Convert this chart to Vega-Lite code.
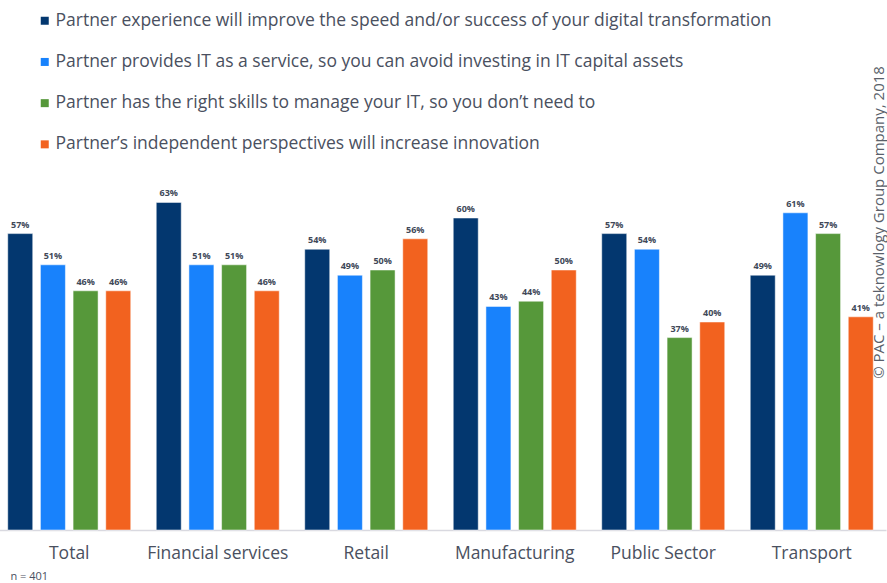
{
  "$schema": "https://vega.github.io/schema/vega-lite/v6.json",
  "width": 887,
  "height": 364,
  "autosize": "none",
  "padding": {"left": 0, "top": 166, "right": 0, "bottom": 53},
  "background": "white",
  "config": {
    "view": {"stroke": null},
    "font": "Open Sans"
  },
  "data": {
    "values": [
      {"sector": "Total", "reason": "Partner experience will improve the speed and/or success of your digital transformation", "value": 0.57},
      {"sector": "Total", "reason": "Partner provides IT as a service, so you can avoid investing in IT capital assets", "value": 0.51},
      {"sector": "Total", "reason": "Partner has the right skills to manage your IT, so you don’t need to", "value": 0.46},
      {"sector": "Total", "reason": "Partner’s independent perspectives will increase innovation", "value": 0.46},
      {"sector": "Financial services", "reason": "Partner experience will improve the speed and/or success of your digital transformation", "value": 0.63},
      {"sector": "Financial services", "reason": "Partner provides IT as a service, so you can avoid investing in IT capital assets", "value": 0.51},
      {"sector": "Financial services", "reason": "Partner has the right skills to manage your IT, so you don’t need to", "value": 0.51},
      {"sector": "Financial services", "reason": "Partner’s independent perspectives will increase innovation", "value": 0.46},
      {"sector": "Retail", "reason": "Partner experience will improve the speed and/or success of your digital transformation", "value": 0.54},
      {"sector": "Retail", "reason": "Partner provides IT as a service, so you can avoid investing in IT capital assets", "value": 0.49},
      {"sector": "Retail", "reason": "Partner has the right skills to manage your IT, so you don’t need to", "value": 0.50},
      {"sector": "Retail", "reason": "Partner’s independent perspectives will increase innovation", "value": 0.56},
      {"sector": "Manufacturing", "reason": "Partner experience will improve the speed and/or success of your digital transformation", "value": 0.60},
      {"sector": "Manufacturing", "reason": "Partner provides IT as a service, so you can avoid investing in IT capital assets", "value": 0.43},
      {"sector": "Manufacturing", "reason": "Partner has the right skills to manage your IT, so you don’t need to", "value": 0.44},
      {"sector": "Manufacturing", "reason": "Partner’s independent perspectives will increase innovation", "value": 0.50},
      {"sector": "Public Sector", "reason": "Partner experience will improve the speed and/or success of your digital transformation", "value": 0.57},
      {"sector": "Public Sector", "reason": "Partner provides IT as a service, so you can avoid investing in IT capital assets", "value": 0.54},
      {"sector": "Public Sector", "reason": "Partner has the right skills to manage your IT, so you don’t need to", "value": 0.37},
      {"sector": "Public Sector", "reason": "Partner’s independent perspectives will increase innovation", "value": 0.40},
      {"sector": "Transport", "reason": "Partner experience will improve the speed and/or success of your digital transformation", "value": 0.49},
      {"sector": "Transport", "reason": "Partner provides IT as a service, so you can avoid investing in IT capital assets", "value": 0.61},
      {"sector": "Transport", "reason": "Partner has the right skills to manage your IT, so you don’t need to", "value": 0.57},
      {"sector": "Transport", "reason": "Partner’s independent perspectives will increase innovation", "value": 0.41}
    ]
  },
  "encoding": {
    "x": {
      "field": "sector",
      "type": "nominal",
      "sort": null,
      "scale": {"range": [-5, 886], "paddingInner": 0, "paddingOuter": 0},
      "axis": {
        "title": "n = 401",
        "titleX": 10,
        "titleY": 46,
        "titleAlign": "left",
        "titleBaseline": "middle",
        "titleFontSize": 11,
        "titleFontWeight": "normal",
        "titleColor": "#4a5060",
        "labelAngle": 0,
        "labelFontSize": 17.5,
        "labelColor": "#4a5060",
        "labelPadding": 14,
        "ticks": false,
        "domainColor": "#d9d9e0",
        "domainWidth": 1.5
      }
    },
    "xOffset": {
      "field": "reason",
      "type": "nominal",
      "sort": null,
      "scale": {"paddingInner": 0.235, "paddingOuter": 0.39}
    },
    "y": {
      "field": "value",
      "type": "quantitative",
      "scale": {"domain": [0, 0.7], "nice": false},
      "axis": {
        "orient": "right",
        "title": "© PAC – a teknowlogy Group Company, 2018",
        "titleAngle": 270,
        "titleX": -9,
        "titleY": 56,
        "titleAlign": "center",
        "titleBaseline": "middle",
        "titleFontSize": 15,
        "titleFontWeight": "normal",
        "titleColor": "#5a5f6a",
        "labels": false,
        "ticks": false,
        "domain": false,
        "grid": false
      }
    }
  },
  "layer": [
    {
      "mark": {"type": "bar", "stroke": "white", "strokeOpacity": 0.5, "strokeWidth": 1},
      "encoding": {
        "color": {
          "field": "reason",
          "type": "nominal",
          "sort": null,
          "scale": {
            "domain": [
              "Partner experience will improve the speed and/or success of your digital transformation",
              "Partner provides IT as a service, so you can avoid investing in IT capital assets",
              "Partner has the right skills to manage your IT, so you don’t need to",
              "Partner’s independent perspectives will increase innovation"
            ],
            "range": ["#03376f", "#1882fc", "#56983a", "#f2621f"]
          },
          "legend": {
            "title": null,
            "orient": "none",
            "legendX": 36,
            "legendY": -154,
            "symbolType": "square",
            "symbolSize": 64,
            "symbolStrokeWidth": 0,
            "labelFontSize": 17.5,
            "labelColor": "#4a5060",
            "labelLimit": 900,
            "labelOffset": 2,
            "rowPadding": 22.2
          }
        }
      }
    },
    {
      "mark": {"type": "text", "baseline": "bottom", "dy": -4, "fontSize": 9, "fontWeight": "bold", "color": "#404858"},
      "encoding": {
        "text": {"field": "value", "type": "quantitative", "format": ".0%"}
      }
    }
  ]
}
